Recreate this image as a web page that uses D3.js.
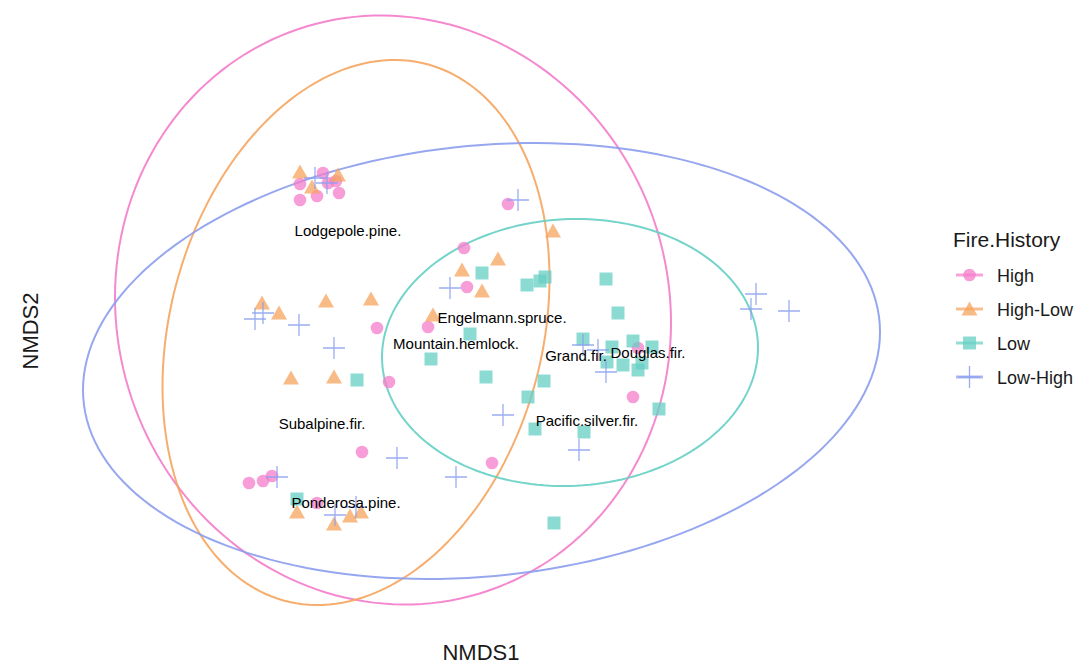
<!DOCTYPE html>
<html>
<head>
<meta charset="utf-8">
<script src="https://cdn.jsdelivr.net/npm/d3@7"></script>
<style>
  body { margin: 0; background: #ffffff; }
  text { font-family: "Liberation Sans", Arial, sans-serif; }
</style>
</head>
<body>
<svg id="chart" width="1081" height="666"></svg>
<script>
// Fire history groups and their colours
const fireLevels = ["High", "High-Low", "Low", "Low-High"];
const fireColors = ["#F47CCB", "#F5A45E", "#66CFC4", "#8B9DED"];

// Site scores [NMDS1, NMDS2] per fire history group
const highSites = [
  [-0.905, 0.63], [-0.905, 0.55], [-0.82, 0.57], [-0.79, 0.685], [-0.765, 0.635],
  [-0.725, 0.645], [-0.71, 0.585], [0.135, 0.53], [-0.085, 0.31], [-0.07, 0.115],
  [-0.52, -0.09], [-0.265, -0.085], [-0.46, -0.36], [-0.595, -0.71], [0.055, -0.765],
  [0.76, -0.435], [0.785, -0.19], [-1.16, -0.865], [-1.09, -0.855], [-1.045, -0.83],
  [-0.82, -0.965]
];
const highLowSites = [
  [-0.905, 0.69], [-0.845, 0.615], [-0.715, 0.675], [-1.095, 0.035], [-1.01, -0.015],
  [-0.775, 0.045], [-0.55, 0.055], [-0.95, -0.34], [-0.735, -0.335], [0.36, 0.395],
  [0.085, 0.255], [-0.095, 0.2], [0.005, 0.095], [-0.24, -0.025], [-0.92, -1.01],
  [-0.735, -1.07], [-0.655, -1.03], [-0.6, -1.01]
];
const lowSites = [
  [0.005, 0.185], [0.23, 0.125], [0.295, 0.145], [0.32, 0.165], [0.625, 0.155],
  [0.685, -0.015], [-0.055, -0.12], [-0.25, -0.245], [0.025, -0.335], [0.315, -0.355],
  [0.235, -0.435], [0.27, -0.595], [0.515, -0.61], [0.51, -0.145], [0.655, -0.185],
  [0.76, -0.155], [0.855, -0.185], [0.63, -0.26], [0.71, -0.275], [0.785, -0.3],
  [0.805, -0.265], [0.89, -0.495], [-0.62, -0.35], [-0.92, -0.945], [0.365, -1.065]
];
const lowHighSites = [
  [-0.83, 0.66], [-0.77, 0.635], [0.185, 0.55], [-0.155, 0.11], [-1.13, -0.045],
  [-1.09, -0.015], [-0.91, -0.075], [-0.735, -0.19], [0.51, -0.175], [0.585, -0.2],
  [0.625, -0.31], [0.11, -0.525], [0.49, -0.7], [1.375, 0.08], [1.35, 0.005],
  [1.54, -0.005], [-1.02, -0.835], [-0.42, -0.74], [-0.125, -0.835], [-0.73, -1.025],
  [-0.625, -0.985]
];
const groupSites = [highSites, highLowSites, lowSites, lowHighSites];

// Species scores
const speciesNames = [
  "Lodgepole.pine.", "Engelmann.spruce.", "Mountain.hemlock.", "Grand.fir.",
  "Douglas.fir.", "Pacific.silver.fir.", "Subalpine.fir.", "Ponderosa.pine."
];
const speciesScores = [
  [-0.665, 0.4], [0.105, -0.035], [-0.125, -0.165], [0.475, -0.225],
  [0.835, -0.21], [0.53, -0.55], [-0.795, -0.565], [-0.675, -0.96]
];

// Confidence ellipses per group: centre [NMDS1, NMDS2] and spread [sd1, sd2, correlation]
const ellipseCentres = [[-0.44, 0.0], [-0.625, -0.1125], [0.445, -0.2125], [0.0025, -0.255]];
const ellipseSpreads = [[1.39, 1.4725, -0.043], [0.9675, 1.3625, 0.199], [0.94, 0.6675, 0.036], [1.9925, 1.09, 0.133]];

const svg = d3.select("#chart");
const x = d3.scaleLinear().domain([-2, 2]).range([81, 881]);
const y = d3.scaleLinear().domain([-1.5, 1.5]).range([610, 10]);

// Ellipse outlines
const line = d3.line().x(d => x(d[0])).y(d => y(d[1])).curve(d3.curveLinearClosed);
const steps = d3.range(0, 180).map(i => i / 180 * 2 * Math.PI);
ellipseCentres.forEach((c, i) => {
  const [sx, sy, r] = ellipseSpreads[i];
  const pts = steps.map(t => [
    c[0] + sx * Math.cos(t),
    c[1] + sy * (r * Math.cos(t) + Math.sqrt(1 - r * r) * Math.sin(t))
  ]);
  svg.append("path")
    .attr("d", line(pts))
    .attr("fill", "none")
    .attr("stroke", fireColors[i])
    .attr("stroke-width", 2)
    .attr("opacity", 0.9);
});

// Marker shapes
function markerPath(kind, px, py) {
  if (kind === 0) {
    const r = 6.3;
    return `M${px - r},${py}a${r},${r} 0 1,0 ${2 * r},0a${r},${r} 0 1,0 ${-2 * r},0Z`;
  }
  if (kind === 1) {
    return `M${px},${py - 7.5}L${px + 8},${py + 6.5}L${px - 8},${py + 6.5}Z`;
  }
  if (kind === 2) {
    const h = 6.5;
    return `M${px - h},${py - h}H${px + h}V${py + h}H${px - h}Z`;
  }
  const s = 11;
  return `M${px - s},${py}H${px + s}M${px},${py - s}V${py + s}`;
}

function drawMarker(g, kind, px, py, color) {
  const p = g.append("path").attr("d", markerPath(kind, px, py));
  if (kind === 3) {
    p.attr("fill", "none").attr("stroke", color).attr("stroke-width", 1.3).attr("opacity", 0.85);
  } else {
    p.attr("fill", color).attr("opacity", 0.75);
  }
}

const pointsG = svg.append("g");
groupSites.forEach((sites, i) => {
  sites.forEach(d => drawMarker(pointsG, i, x(d[0]), y(d[1]), fireColors[i]));
});

// Species labels
svg.append("g").selectAll("text")
  .data(speciesNames)
  .join("text")
  .attr("x", (d, i) => x(speciesScores[i][0]))
  .attr("y", (d, i) => y(speciesScores[i][1]))
  .attr("text-anchor", "middle")
  .attr("dominant-baseline", "central")
  .attr("font-size", 15)
  .attr("fill", "#000")
  .text(d => d);

// Axis titles
svg.append("text")
  .attr("x", 481).attr("y", 660)
  .attr("text-anchor", "middle")
  .attr("font-size", 22)
  .attr("fill", "#1a1a1a")
  .text("NMDS1");
svg.append("text")
  .attr("transform", "translate(38,331) rotate(-90)")
  .attr("text-anchor", "middle")
  .attr("font-size", 22)
  .attr("fill", "#1a1a1a")
  .text("NMDS2");

// Legend
const legend = svg.append("g");
legend.append("text")
  .attr("x", 953).attr("y", 247)
  .attr("font-size", 21)
  .attr("fill", "#1a1a1a")
  .text("Fire.History");
fireLevels.forEach((lvl, i) => {
  const cy = 275 + i * 34;
  legend.append("line")
    .attr("x1", 956).attr("x2", 983).attr("y1", cy).attr("y2", cy)
    .attr("stroke", fireColors[i]).attr("stroke-width", 3).attr("opacity", 0.7);
  drawMarker(legend, i, 969.5, cy, fireColors[i]);
  legend.append("text")
    .attr("x", 997).attr("y", cy + 7)
    .attr("font-size", 18)
    .attr("fill", "#1a1a1a")
    .text(lvl);
});
</script>
</body>
</html>
